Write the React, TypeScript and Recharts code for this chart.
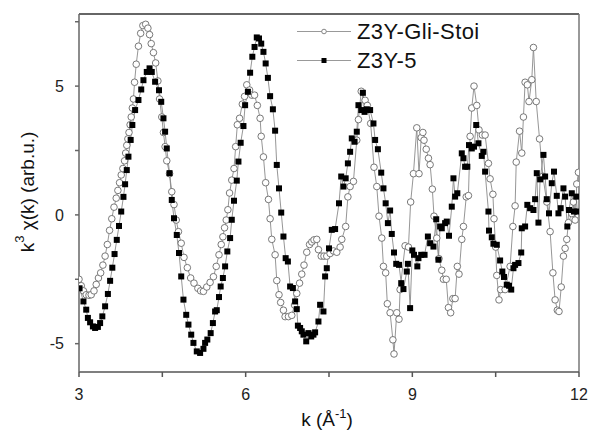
import React from 'react';
import { LineChart, Line, XAxis, YAxis, ReferenceLine, Label } from 'recharts';

const kStoi = [3.00,3.04,3.08,3.13,3.18,3.22,3.27,3.31,3.35,3.39,3.43,3.47,3.51,3.55,3.59,3.63,3.67,3.70,3.73,3.76,3.79,3.82,3.84,3.86,3.88,3.90,3.92,3.94,3.96,3.98,4.00,4.03,4.07,4.11,4.15,4.20,4.24,4.27,4.30,4.34,4.38,4.42,4.45,4.49,4.52,4.55,4.58,4.63,4.67,4.71,4.75,4.79,4.84,4.89,4.95,5.01,5.07,5.14,5.19,5.24,5.30,5.36,5.42,5.47,5.52,5.56,5.59,5.62,5.65,5.68,5.71,5.75,5.79,5.82,5.85,5.89,5.94,5.98,6.02,6.07,6.11,6.16,6.21,6.26,6.28,6.32,6.36,6.41,6.44,6.47,6.53,6.56,6.60,6.63,6.68,6.71,6.77,6.83,6.88,6.92,6.97,7.01,7.05,7.10,7.15,7.19,7.23,7.28,7.31,7.36,7.41,7.46,7.52,7.58,7.64,7.70,7.73,7.80,7.84,7.88,7.94,8.00,8.03,8.08,8.15,8.19,8.25,8.31,8.36,8.40,8.45,8.48,8.52,8.55,8.60,8.65,8.67,8.72,8.76,8.78,8.87,8.93,8.97,9.02,9.08,9.12,9.16,9.19,9.21,9.25,9.29,9.32,9.36,9.39,9.44,9.48,9.53,9.56,9.61,9.65,9.69,9.73,9.77,9.81,9.84,9.89,9.92,9.97,10.01,10.04,10.07,10.11,10.16,10.20,10.26,10.31,10.37,10.40,10.45,10.47,10.50,10.52,10.56,10.59,10.67,10.76,10.81,10.85,10.87,10.93,10.97,11.00,11.03,11.07,11.10,11.15,11.18,11.23,11.29,11.35,11.42,11.48,11.53,11.57,11.61,11.64,11.68,11.72,11.75,11.78,11.81,11.87,11.90,11.93,11.96,11.99];
const vStoi = [-2.5,-2.75,-2.95,-3.1,-3.12,-3.1,-2.95,-2.7,-2.45,-2.25,-1.95,-1.6,-1.15,-0.6,-0.15,0.3,0.65,0.95,1.25,1.55,1.8,2.1,2.4,2.7,2.95,3.2,3.5,3.8,4.15,4.5,5.15,5.85,6.55,7.05,7.35,7.4,7.25,7.0,6.65,6.3,5.9,5.2,4.5,3.8,3.2,2.65,2.1,1.6,0.9,0.4,-0.2,-0.65,-1.1,-1.65,-2.05,-2.45,-2.65,-2.85,-2.95,-2.97,-2.8,-2.62,-2.4,-2.0,-1.55,-1.15,-0.85,-0.5,-0.2,0.2,0.85,1.35,1.8,2.65,3.5,3.75,4.3,4.6,5.05,4.85,4.65,4.65,4.25,3.75,3.05,2.25,1.25,0.6,-0.15,-0.95,-1.55,-2.55,-3.1,-3.4,-3.7,-3.95,-3.95,-3.9,-3.5,-3.05,-2.65,-2.3,-1.95,-1.45,-1.15,-1.05,-0.97,-0.95,-1.35,-1.6,-1.6,-1.6,-1.5,-1.4,-1.45,-1.25,-0.95,-0.45,0.7,1.1,1.3,2.9,3.7,4.8,4.45,4.25,3.55,1.85,1.1,-0.05,-0.9,-2.0,-2.25,-3.45,-3.8,-4.85,-5.4,-3.8,-4.05,-2.9,-1.2,-1.25,0.5,1.6,3.38,1.6,3.0,3.2,2.9,2.55,2.2,1.95,1.0,-0.05,-0.9,-1.7,-2.15,-2.5,-2.5,-3.6,-3.8,-3.25,-3.25,-2.0,-2.3,-0.95,-0.45,0.7,0.75,3.05,4.15,5.0,4.25,3.3,3.1,3.1,2.0,1.4,0.8,-0.15,-1.25,-2.35,-3.3,-2.9,-2.9,-2.0,-0.45,0.35,2.05,3.25,2.4,3.8,5.15,5.05,4.4,5.25,6.5,4.4,2.95,1.5,0.5,-0.65,-2.25,-3.3,-3.7,-3.75,-2.8,-1.6,-1.3,-0.95,-0.3,0.05,0.5,-0.2,1.2,1.65];

const kZ5 = [3.01,3.08,3.13,3.16,3.20,3.25,3.29,3.34,3.38,3.42,3.47,3.52,3.56,3.60,3.64,3.68,3.72,3.76,3.80,3.83,3.86,3.89,3.93,3.96,4.01,4.07,4.12,4.16,4.22,4.27,4.31,4.37,4.44,4.48,4.52,4.55,4.58,4.63,4.67,4.71,4.76,4.80,4.84,4.88,4.93,4.97,5.02,5.06,5.12,5.18,5.24,5.27,5.31,5.37,5.41,5.45,5.48,5.52,5.55,5.59,5.63,5.67,5.72,5.75,5.79,5.84,5.87,5.91,5.96,5.99,6.04,6.08,6.12,6.16,6.20,6.24,6.28,6.32,6.36,6.40,6.44,6.49,6.53,6.56,6.60,6.64,6.68,6.72,6.76,6.80,6.85,6.89,6.92,6.94,6.98,7.01,7.04,7.09,7.13,7.18,7.22,7.25,7.31,7.34,7.40,7.43,7.46,7.50,7.55,7.61,7.68,7.72,7.76,7.80,7.84,7.88,7.91,7.96,8.00,8.03,8.08,8.11,8.14,8.18,8.24,8.30,8.33,8.38,8.44,8.48,8.52,8.56,8.60,8.63,8.67,8.71,8.76,8.80,8.84,8.90,8.92,8.96,9.00,9.03,9.09,9.11,9.16,9.22,9.28,9.32,9.38,9.43,9.47,9.50,9.53,9.59,9.62,9.66,9.71,9.74,9.77,9.81,9.89,9.92,9.95,9.99,10.02,10.07,10.11,10.15,10.19,10.25,10.28,10.31,10.37,10.38,10.43,10.46,10.52,10.58,10.62,10.65,10.70,10.74,10.78,10.82,10.85,10.91,10.96,10.97,11.03,11.07,11.12,11.18,11.21,11.24,11.27,11.30,11.36,11.39,11.42,11.46,11.51,11.55,11.60,11.63,11.67,11.72,11.75,11.79,11.82,11.87,11.91,11.95,11.97];
const vZ5 = [-2.85,-3.36,-3.68,-4.0,-4.17,-4.33,-4.39,-4.35,-4.2,-3.94,-3.55,-3.07,-2.56,-2.05,-1.52,-0.97,-0.43,0.13,0.7,1.19,1.74,2.26,2.91,3.49,4.07,4.46,4.87,5.23,5.55,5.69,5.55,5.17,4.84,4.39,3.75,3.23,2.58,1.62,0.58,-0.13,-0.78,-1.48,-2.39,-3.29,-3.88,-4.26,-4.65,-4.97,-5.3,-5.36,-5.2,-4.97,-4.84,-4.59,-4.2,-3.75,-3.7,-3.19,-2.78,-2.45,-2.0,-1.42,-0.9,-0.19,0.55,1.33,2.07,2.8,3.45,4.26,4.78,5.52,6.14,6.52,6.89,6.85,6.65,6.33,5.88,5.32,4.61,4.1,3.27,1.94,1.03,0.09,-0.84,-1.68,-1.81,-2.78,-2.84,-3.36,-3.66,-4.3,-4.39,-4.52,-4.65,-4.91,-4.59,-4.72,-4.65,-4.56,-4.14,-3.49,-3.75,-2.39,-2.07,-1.3,-0.58,-0.55,0.45,1.49,1.1,1.42,2.0,2.45,2.97,2.84,3.23,4.26,4.07,4.74,4.0,4.1,4.07,3.55,2.91,2.55,1.64,1.03,0.45,-0.32,0.17,-0.74,-1.46,-1.9,-1.94,-2.65,-2.88,-2.2,-1.9,-3.62,-1.38,-1.55,-2.0,-1.68,-1.55,-1.55,-0.84,-1.1,-1.23,-0.17,-1.74,-0.45,-0.52,-0.32,-0.26,-0.81,0.32,1.42,0.71,0.84,2.39,2.2,1.87,1.87,2.71,2.58,2.65,3.49,2.78,2.29,2.45,1.68,0.13,-0.61,-0.87,-1.12,-1.16,-1.77,-2.2,-2.41,-2.71,-2.75,-2.9,-2.07,-1.94,-1.87,-1.46,-0.52,-0.45,0.39,0.26,0.19,0.61,1.62,-0.3,1.38,2.33,1.49,0.61,0.06,1.23,1.68,0.74,0.06,0.26,1.03,0.71,-0.45,0.19,0.84,0.13,0.71,0.13];

const seriesNames = ['Z3Y-Gli-Stoi', 'Z3Y-5'];
const xTicks = [3, 4.5, 6, 7.5, 9, 10.5, 12];
const xTickLabels = ['3', '', '6', '', '9', '', '12'];
const yTicks = [-5, -2.5, 0, 2.5, 5, 7.5];
const yTickLabels = ['-5', '', '0', '', '5', ''];

const stoiData = kStoi.map((k, i) => ({ k, v: vStoi[i] }));
const z5Data = kZ5.map((k, i) => ({ k, v: vZ5[i] }));

const FONT = '"Liberation Sans", Arial, sans-serif';

const SquareDot = (props: any) => {
  const { cx, cy, index } = props;
  if (cx == null || cy == null) return <g key={`s${index}`} />;
  return <rect key={`s${index}`} x={cx - 3} y={cy - 3} width={6} height={6} fill="#000" />;
};

const CircleDot = (props: any) => {
  const { cx, cy, index } = props;
  if (cx == null || cy == null) return <g key={`c${index}`} />;
  return <circle key={`c${index}`} cx={cx} cy={cy} r={3.3} fill="#fff" stroke="#6a6a6a" strokeWidth={0.9} />;
};

const YLabel = () => {
  const cx = 27;
  const cy = 192;
  return (
    <text
      x={cx}
      y={cy}
      transform={`rotate(-90 ${cx} ${cy})`}
      textAnchor="middle"
      dominantBaseline="central"
      fontFamily={FONT}
      fontSize={19}
      fill="#111"
    >
      <tspan>k</tspan>
      <tspan dy={-8} fontSize={13}>3</tspan>
      <tspan dy={8}> χ(k) (arb.u.)</tspan>
    </text>
  );
};

const XLabel = () => {
  return (
    <text x={327} y={426} textAnchor="middle" fontFamily={FONT} fontSize={19} fill="#111">
      <tspan>k (Å</tspan>
      <tspan dy={-8} fontSize={13}>-1</tspan>
      <tspan dy={8}>)</tspan>
    </text>
  );
};

export default function App() {
  return (
    <div style={{ position: 'absolute', left: 0, top: 0, width: 590, height: 435, background: '#fff' }}>
      <LineChart
        width={590}
        height={435}
        margin={{ top: 14, right: 11, bottom: 0, left: 0 }}
        style={{ fontFamily: FONT }}
      >
        <XAxis
          dataKey="k"
          type="number"
          domain={[3, 12]}
          ticks={xTicks}
          tickFormatter={(v: number) => xTickLabels[xTicks.indexOf(v)] ?? ''}
          height={63}
          tickSize={5}
          tickMargin={12}
          stroke="#555"
          strokeWidth={1.5}
          tick={{ fill: '#222', fontSize: 16, fontFamily: FONT }}
          allowDataOverflow
        >
          <Label content={<XLabel />} />
        </XAxis>
        <YAxis
          type="number"
          domain={[-6.1, 7.8]}
          ticks={yTicks}
          tickFormatter={(v: number) => yTickLabels[yTicks.indexOf(v)] ?? ''}
          width={79}
          tickSize={4}
          tickMargin={11}
          stroke="#666"
          strokeWidth={1.5}
          tick={{ fill: '#222', fontSize: 16, fontFamily: FONT }}
          allowDataOverflow
        >
          <Label content={<YLabel />} />
        </YAxis>
        <ReferenceLine y={7.8} stroke="#333" strokeWidth={1.5} ifOverflow="extendDomain" />
        <ReferenceLine x={12} stroke="#777" strokeWidth={1.5} ifOverflow="extendDomain" />
        <Line
          data={stoiData}
          dataKey="v"
          name={seriesNames[0]}
          stroke="#8a8a8a"
          strokeWidth={0.9}
          dot={<CircleDot />}
          isAnimationActive={false}
          type="linear"
        />
        <Line
          data={z5Data}
          dataKey="v"
          name={seriesNames[1]}
          stroke="#8a8a8a"
          strokeWidth={0.9}
          dot={<SquareDot />}
          isAnimationActive={false}
          type="linear"
        />
      </LineChart>
      <div
        style={{
          position: 'absolute',
          left: 296,
          top: 17,
          fontFamily: FONT,
          fontSize: 22,
          letterSpacing: 0.4,
          color: '#111',
          lineHeight: '29px',
        }}
      >
        <div style={{ display: 'flex', alignItems: 'center', height: 29 }}>
          <svg width={56} height={29}>
            <line x1={1} y1={14.5} x2={55} y2={14.5} stroke="#999" strokeWidth={1} />
            <circle cx={28} cy={14.5} r={2.3} fill="#fff" stroke="#777" strokeWidth={0.9} />
          </svg>
          <span style={{ marginLeft: 5 }}>{seriesNames[0]}</span>
        </div>
        <div style={{ display: 'flex', alignItems: 'center', height: 29 }}>
          <svg width={56} height={29}>
            <line x1={1} y1={14.5} x2={55} y2={14.5} stroke="#999" strokeWidth={1} />
            <rect x={25.5} y={12} width={5} height={5} fill="#000" />
          </svg>
          <span style={{ marginLeft: 5 }}>{seriesNames[1]}</span>
        </div>
      </div>
    </div>
  );
}
